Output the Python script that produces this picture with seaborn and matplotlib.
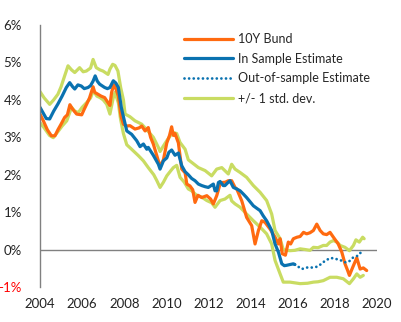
import matplotlib
matplotlib.use("Agg")
import matplotlib.pyplot as plt
import seaborn as sns
import pandas as pd

# ---------------- data (decimal years, % yield) ----------------
bund_x = [2004.00, 2004.15, 2004.35, 2004.54, 2004.71, 2004.85, 2005.00, 2005.17, 2005.30, 2005.42,
          2005.55, 2005.74, 2005.98, 2006.10, 2006.22, 2006.35, 2006.52, 2006.60, 2006.75, 2006.90,
          2007.07, 2007.20, 2007.32, 2007.40, 2007.50, 2007.60, 2007.72, 2007.85, 2007.96, 2008.10,
          2008.27, 2008.51, 2008.70, 2008.83, 2008.99, 2009.14, 2009.25, 2009.38, 2009.55, 2009.70,
          2009.86, 2010.02, 2010.15, 2010.25, 2010.33, 2010.41, 2010.57, 2010.73, 2010.89, 2010.97,
          2011.12, 2011.25, 2011.36, 2011.50, 2011.68, 2011.92, 2012.10, 2012.23, 2012.39, 2012.55,
          2012.63, 2012.80, 2012.94, 2013.10, 2013.26, 2013.34, 2013.58, 2013.81, 2014.05, 2014.21,
          2014.37, 2014.53, 2014.68, 2014.92, 2015.16, 2015.32, 2015.40, 2015.50, 2015.65, 2015.79,
          2015.90, 2016.03, 2016.20, 2016.35, 2016.51, 2016.66, 2016.82, 2016.98, 2017.14, 2017.30,
          2017.45, 2017.61, 2017.77, 2017.93, 2018.16, 2018.33, 2018.48, 2018.60, 2018.69, 2018.85,
          2019.04, 2019.20, 2019.35, 2019.51]
bund_y = [3.62, 3.45, 3.20, 3.04, 3.04, 3.20, 3.35, 3.53, 3.60, 3.87,
          3.75, 3.62, 3.60, 3.75, 3.89, 4.05, 4.35, 4.20, 4.15, 4.10,
          4.06, 3.95, 3.85, 4.20, 4.40, 4.30, 4.10, 3.55, 3.35, 3.30,
          3.31, 3.22, 3.25, 3.30, 3.17, 3.26, 3.00, 2.82, 2.50, 2.22,
          2.40, 2.85, 3.05, 3.28, 3.05, 3.10, 2.85, 2.15, 2.05, 1.75,
          1.70, 1.60, 1.26, 1.45, 1.39, 1.44, 1.35, 1.22, 1.44, 1.75,
          1.79, 1.80, 1.84, 1.84, 1.66, 1.62, 1.30, 0.86, 0.64, 0.15,
          0.51, 0.77, 0.73, 0.55, 0.33, 0.15, 0.29, -0.11, -0.15, 0.20,
          0.15, 0.29, 0.33, 0.35, 0.46, 0.42, 0.45, 0.51, 0.68, 0.51,
          0.42, 0.40, 0.46, 0.33, 0.15, -0.07, -0.38, -0.55, -0.69, -0.47,
          -0.22, -0.52, -0.49, -0.56]

insample_x = [2004.00, 2004.15, 2004.30, 2004.46, 2004.65, 2004.85, 2005.05, 2005.25, 2005.41, 2005.55,
              2005.65, 2005.80, 2005.96, 2006.10, 2006.28, 2006.40, 2006.52, 2006.62, 2006.72, 2006.83,
              2007.07, 2007.20, 2007.32, 2007.48, 2007.60, 2007.72, 2007.86, 2007.96, 2008.12, 2008.35,
              2008.59, 2008.75, 2008.91, 2009.07, 2009.14, 2009.38, 2009.62, 2009.70, 2009.86, 2010.02,
              2010.12, 2010.25, 2010.41, 2010.57, 2010.73, 2010.89, 2011.04, 2011.20, 2011.36, 2011.52,
              2011.68, 2011.84, 2011.99, 2012.15, 2012.23, 2012.31, 2012.39, 2012.47, 2012.55, 2012.70,
              2012.78, 2012.94, 2013.02, 2013.18, 2013.34, 2013.50, 2013.66, 2013.81, 2013.97, 2014.13,
              2014.30, 2014.45, 2014.60, 2014.76, 2014.90, 2015.00, 2015.16, 2015.32, 2015.48, 2015.60,
              2015.71, 2015.87, 2016.03, 2016.10]
insample_y = [3.80, 3.65, 3.50, 3.49, 3.70, 3.89, 4.10, 4.33, 4.46, 4.35,
              4.29, 4.40, 4.37, 4.30, 4.33, 4.38, 4.50, 4.64, 4.50, 4.42,
              4.33, 4.30, 4.33, 4.51, 4.45, 4.33, 3.80, 3.55, 3.17, 3.08,
              2.91, 2.75, 2.82, 2.68, 2.73, 2.52, 2.28, 2.15, 2.37, 2.45,
              2.60, 2.66, 2.52, 2.58, 2.24, 2.08, 2.00, 1.90, 1.84, 1.75,
              1.71, 1.68, 1.66, 1.72, 1.75, 1.57, 1.57, 1.79, 1.82, 1.71,
              1.71, 1.80, 1.84, 1.66, 1.62, 1.57, 1.48, 1.39, 1.28, 1.17,
              1.10, 1.04, 0.90, 0.77, 0.62, 0.51, 0.15, -0.07, -0.38, -0.43,
              -0.42, -0.40, -0.38, -0.40]

oos_x = [2016.10, 2016.43, 2016.66, 2016.90, 2017.14, 2017.37, 2017.53, 2017.77, 2017.93, 2018.11,
         2018.29, 2018.48, 2018.67, 2018.85, 2018.96, 2019.11, 2019.24]
oos_y = [-0.40, -0.52, -0.48, -0.48, -0.46, -0.38, -0.30, -0.23, -0.23, -0.26,
         -0.29, -0.34, -0.32, -0.22, -0.19, -0.16, -0.07]

upper_x = [2004.00, 2004.20, 2004.46, 2004.65, 2004.85, 2005.00, 2005.17, 2005.33, 2005.50, 2005.65,
           2005.88, 2006.05, 2006.20, 2006.40, 2006.52, 2006.67, 2006.85, 2006.99, 2007.23, 2007.32,
           2007.45, 2007.56, 2007.70, 2007.83, 2007.96, 2008.04, 2008.27, 2008.51, 2008.83, 2009.07,
           2009.38, 2009.62, 2009.70, 2009.86, 2010.02, 2010.20, 2010.33, 2010.49, 2010.65, 2010.89,
           2011.04, 2011.20, 2011.52, 2011.84, 2012.15, 2012.39, 2012.63, 2012.94, 2013.10, 2013.26,
           2013.50, 2013.81, 2014.13, 2014.45, 2014.76, 2015.00, 2015.16, 2015.40, 2015.55, 2015.70,
           2015.87, 2016.10, 2016.35, 2016.60, 2016.82, 2016.98, 2017.20, 2017.45, 2017.61, 2017.77,
           2017.93, 2018.10, 2018.25, 2018.48, 2018.69, 2018.88, 2019.00, 2019.16, 2019.32, 2019.39]
upper_y = [4.22, 4.05, 3.88, 4.00, 4.15, 4.35, 4.64, 4.91, 4.80, 4.73,
           4.86, 4.75, 4.77, 4.85, 5.08, 4.86, 4.80, 4.77, 4.68, 4.82,
           4.95, 4.92, 4.77, 4.33, 4.00, 3.62, 3.55, 3.44, 3.35, 3.20,
           3.00, 2.73, 2.62, 2.77, 2.91, 3.05, 3.13, 3.10, 2.86, 2.68,
           2.40, 2.33, 2.19, 2.11, 1.97, 2.15, 2.19, 2.02, 2.28, 2.15,
           2.06, 1.93, 1.71, 1.53, 1.31, 0.95, 0.51, 0.29, 0.00, -0.02,
           -0.03, -0.02, 0.02, 0.00, -0.02, 0.06, 0.05, 0.11, 0.11, 0.20,
           0.24, 0.20, 0.11, 0.06, -0.03, 0.11, 0.26, 0.20, 0.33, 0.29]

lower_x = [2004.00, 2004.20, 2004.45, 2004.63, 2004.85, 2005.05, 2005.27, 2005.50, 2005.65, 2005.82,
           2006.00, 2006.22, 2006.40, 2006.53, 2006.70, 2006.85, 2007.00, 2007.17, 2007.32, 2007.48,
           2007.56, 2007.72, 2007.82, 2007.96, 2008.12, 2008.35, 2008.67, 2008.91, 2009.14, 2009.40,
           2009.54, 2009.70, 2009.86, 2010.02, 2010.20, 2010.33, 2010.49, 2010.65, 2010.85, 2011.04,
           2011.20, 2011.44, 2011.68, 2011.92, 2012.15, 2012.31, 2012.55, 2012.78, 2013.02, 2013.10,
           2013.26, 2013.50, 2013.81, 2014.13, 2014.45, 2014.76, 2015.00, 2015.16, 2015.40, 2015.55,
           2015.87, 2016.35, 2016.70, 2016.98, 2017.20, 2017.45, 2017.77, 2018.09, 2018.40, 2018.69,
           2018.88, 2019.04, 2019.20, 2019.35]
lower_y = [3.39, 3.25, 3.05, 2.99, 3.15, 3.30, 3.44, 3.80, 3.70, 3.66,
           3.80, 3.93, 4.05, 4.24, 4.10, 4.06, 4.00, 3.88, 3.62, 4.06,
           4.20, 3.92, 3.50, 3.10, 2.80, 2.68, 2.51, 2.37, 2.19, 2.00,
           1.85, 1.66, 1.80, 1.97, 2.10, 2.19, 2.25, 1.93, 1.80, 1.62,
           1.57, 1.45, 1.40, 1.31, 1.25, 1.13, 1.31, 1.35, 1.45, 1.30,
           1.22, 1.13, 0.95, 0.77, 0.60, 0.42, 0.15, -0.29, -0.65, -0.87,
           -0.87, -0.91, -0.90, -0.87, -0.86, -0.83, -0.74, -0.74, -0.78, -0.91,
           -0.78, -0.65, -0.74, -0.69]

labels = ["10Y Bund", "In Sample Estimate", "Out-of-sample Estimate", "+/- 1 std. dev."]
x_ticks = [2004, 2006, 2008, 2010, 2012, 2014, 2016, 2018, 2020]
y_ticks = [-1, 0, 1, 2, 3, 4, 5, 6]
y_tick_labels = ["-1%", "0%", "1%", "2%", "3%", "4%", "5%", "6%"]

# ---------------- styling ----------------
ORANGE = "#FF6A10"
BLUE = "#0A72B0"
GREEN = "#C9DC62"
GREY = "#808080"

sns.set_theme(style="white")
plt.rcParams["font.family"] = ["Lato", "DejaVu Sans"]

fig = plt.figure(figsize=(4.02, 3.22), dpi=100)
ax = fig.add_axes([40 / 402, 1 - 287 / 322, (377 - 40) / 402, (287 - 25) / 322])

LW = 2.3
sns.lineplot(x=upper_x, y=upper_y, ax=ax, color=GREEN, lw=LW, estimator=None, sort=False,
             label=labels[3])
sns.lineplot(x=lower_x, y=lower_y, ax=ax, color=GREEN, lw=LW, estimator=None, sort=False)
sns.lineplot(x=bund_x, y=bund_y, ax=ax, color=ORANGE, lw=LW, estimator=None, sort=False,
             label=labels[0])
sns.lineplot(x=insample_x, y=insample_y, ax=ax, color=BLUE, lw=LW, estimator=None, sort=False,
             label=labels[1])
sns.lineplot(x=oos_x, y=oos_y, ax=ax, color=BLUE, lw=2.0, estimator=None, sort=False,
             label=labels[2], linestyle=(0, (0.01, 1.65)), dash_capstyle="round")

ax.axhline(0, color=GREY, lw=1.0, zorder=0)

ax.set_xlim(2004, 2020)
ax.set_ylim(-1, 6)
ax.set_xticks(x_ticks)
ax.set_xticklabels([str(t) for t in x_ticks], fontsize=9.5, color="#222222")
ax.set_yticks(y_ticks)
ax.set_yticklabels(y_tick_labels, fontsize=9.5, color="#222222")
ax.get_yticklabels()[0].set_color("red")
ax.tick_params(axis="both", length=0)
ax.tick_params(axis="y", pad=13)
ax.tick_params(axis="x", pad=8)
ax.set_xlabel("")
ax.set_ylabel("")
for s in ["top", "right", "bottom"]:
    ax.spines[s].set_visible(False)
ax.spines["left"].set_color(GREY)
ax.spines["left"].set_linewidth(1.0)

handles, labs = ax.get_legend_handles_labels()
order = [labs.index(l) for l in labels]
ax.legend([handles[i] for i in order], [labs[i] for i in order],
          loc="upper left", bbox_to_anchor=(184 / 402, 1 - 33 / 322),
          bbox_transform=fig.transFigure, frameon=False, fontsize=9,
          handlelength=3.9, handletextpad=0.45, labelspacing=0.62,
          borderpad=0, borderaxespad=0)

fig.savefig("out.png", dpi=100)
